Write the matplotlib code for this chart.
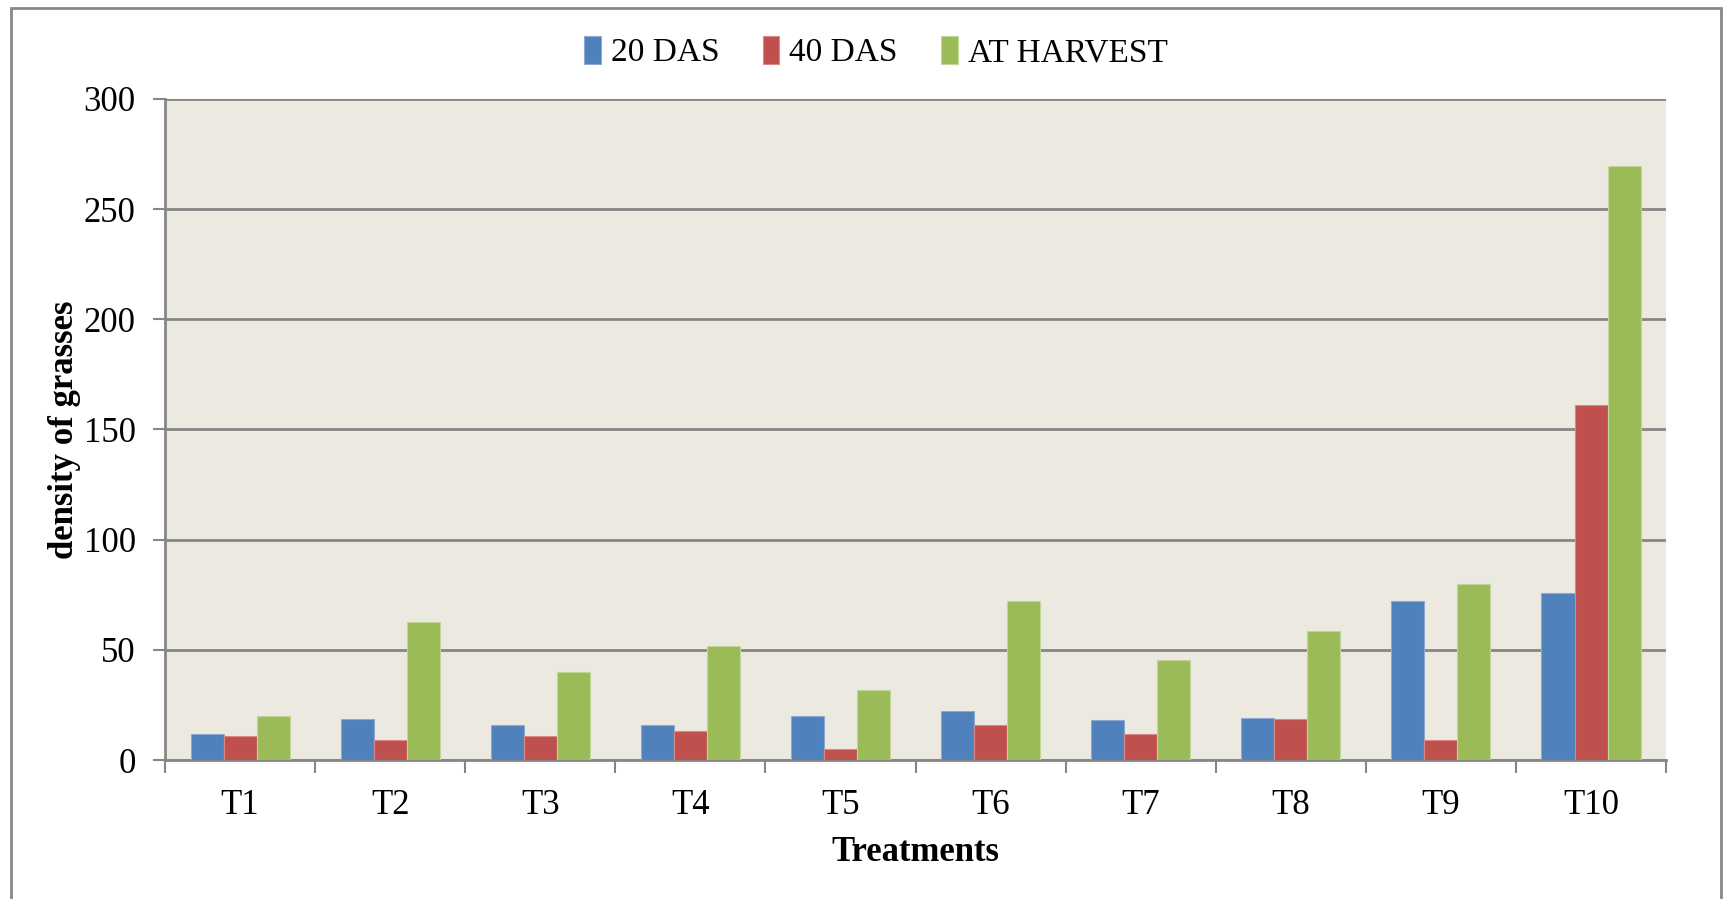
import numpy as np
import matplotlib.pyplot as plt
from matplotlib.patches import Rectangle

# Weed density (grasses) per treatment at three stages
treatments = ['T1', 'T2', 'T3', 'T4', 'T5', 'T6', 'T7', 'T8', 'T9', 'T10']
das_20 = [12, 18.6, 16, 16, 20, 22.3, 18, 19.2, 72, 75.8]
das_40 = [11, 9.2, 11, 13.3, 5.1, 16, 12, 18.6, 9.2, 161]
at_harvest = [20, 62.7, 40, 51.8, 32, 72, 45.3, 58.6, 79.8, 269.5]
series_names = ['20 DAS', '40 DAS', 'AT HARVEST']
colors = ['#4F81BD', '#C0504D', '#9BBB59']
edge_colors = ['#8DAAD3', '#D98A88', '#C0D69A']

plt.rcParams['font.family'] = ['Liberation Serif', 'DejaVu Serif']

fig = plt.figure(figsize=(17.24, 8.99), dpi=100)
ax = fig.add_axes([0.0957, 0.1546, 0.8707, 0.7353])
ax.set_facecolor('#ECEAE0')

x = np.arange(len(treatments))
width = 0.22
for i, (vals, name) in enumerate(zip([das_20, das_40, at_harvest], series_names)):
    ax.bar(x + (i - 1) * width, vals, width, color=colors[i], label=name,
           edgecolor=edge_colors[i], linewidth=0.8, zorder=3)

ax.set_xlim(-0.5, len(treatments) - 0.5)
ax.set_ylim(0, 300)
ax.set_yticks(np.arange(0, 301, 50))
ax.yaxis.grid(True, color='#868686', linewidth=2, zorder=1)

# Category labels centred, tick marks on category boundaries
ax.set_xticks(x)
ax.set_xticklabels(treatments, fontsize=25)
ax.set_xticks(np.arange(-0.5, len(treatments)), minor=True)
ax.tick_params(axis='x', which='major', length=0, pad=21)
ax.tick_params(axis='x', which='minor', length=9, width=1.5, color='#868686')
ax.tick_params(axis='y', length=9, width=1.5, color='#868686', labelsize=25, pad=12)

for side in ['top', 'right']:
    ax.spines[side].set_visible(False)
for side in ['left', 'bottom']:
    ax.spines[side].set_color('#868686')
    ax.spines[side].set_linewidth(2)

ax.set_xlabel('Treatments', fontsize=25, fontweight='bold', labelpad=10)
ax.set_ylabel('density of grasses', fontsize=25, fontweight='bold', labelpad=2)

fig.legend(loc='center', bbox_to_anchor=(0.508, 0.942), ncol=3, frameon=False,
           fontsize=24, handlelength=0.5, handleheight=0.9, handletextpad=0.3,
           columnspacing=1.3)

# Outer chart border
fig.patches.append(Rectangle((0.0064, -0.02), 0.992, 1.011, transform=fig.transFigure,
                             fill=False, edgecolor='#878787', linewidth=2))

fig.savefig('out.png', dpi=100)
